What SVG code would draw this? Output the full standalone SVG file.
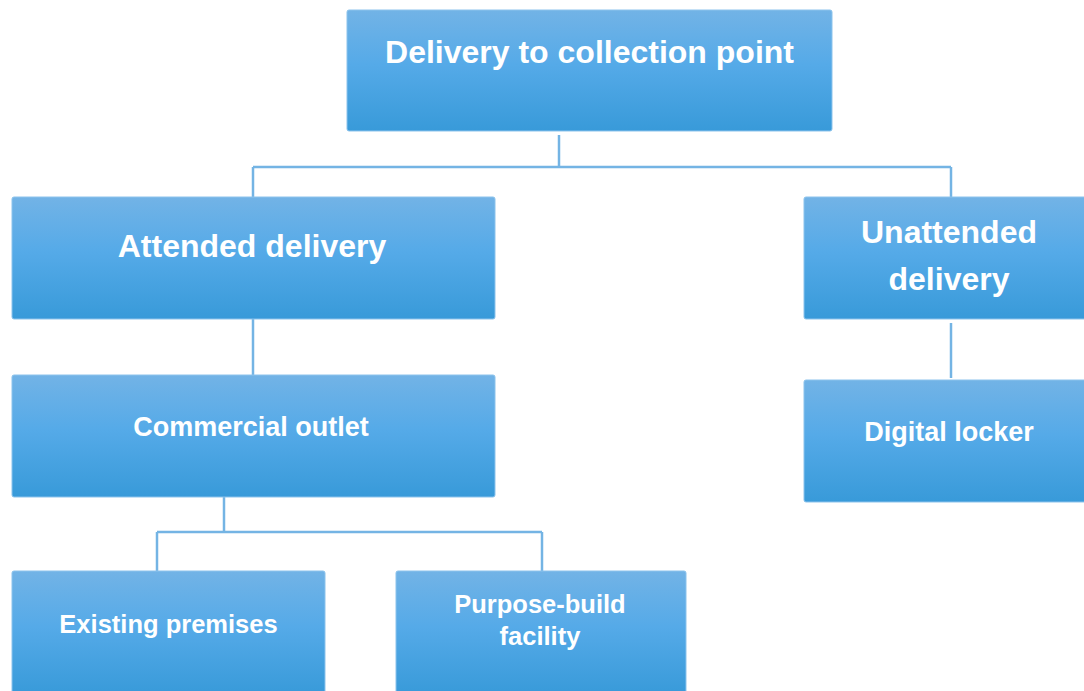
<svg xmlns="http://www.w3.org/2000/svg" width="1084" height="691" viewBox="0 0 1084 691">
  <defs>
    <linearGradient id="boxGrad" x1="0" y1="0" x2="0" y2="1">
      <stop offset="0" stop-color="#72b3e6"/>
      <stop offset="0.45" stop-color="#55aae8"/>
      <stop offset="1" stop-color="#389ad9"/>
    </linearGradient>
  </defs>
  <style>
    .box { fill: url(#boxGrad); stroke: #8cc3ec; stroke-width: 1; }
    .lbl { fill: #ffffff; font-family: "Liberation Sans", Arial, sans-serif; font-weight: bold; text-anchor: middle; }
    .big { font-size: 32px; }
    .mid { font-size: 27px; }
    .small { font-size: 25.5px; }
    .conn { fill: none; stroke: #74b4e4; stroke-width: 2.5; }
  </style>
  <rect width="1084" height="691" fill="#ffffff"/>

  <g id="connectors">
    <path class="conn" d="M559 135 V167"/>
    <path class="conn" d="M253 167 H951"/>
    <path class="conn" d="M253 167 V197"/>
    <path class="conn" d="M951 167 V197"/>
    <path class="conn" d="M253 319 V375"/>
    <path class="conn" d="M951 323 V378"/>
    <path class="conn" d="M224 497 V532"/>
    <path class="conn" d="M157 532 H542"/>
    <path class="conn" d="M157 532 V571"/>
    <path class="conn" d="M542 532 V571"/>
  </g>

  <g id="node-root">
    <rect class="box" x="347" y="10" width="485" height="121" rx="2"/>
    <text class="lbl big" x="589.5" y="63">Delivery to collection point</text>
  </g>

  <g id="node-attended">
    <rect class="box" x="12" y="197" width="483" height="122" rx="2"/>
    <text class="lbl big" x="252" y="257">Attended delivery</text>
  </g>

  <g id="node-unattended">
    <rect class="box" x="804" y="197" width="290" height="122" rx="2"/>
    <text class="lbl big" x="949" y="243">Unattended</text>
    <text class="lbl big" x="949" y="290">delivery</text>
  </g>

  <g id="node-commercial">
    <rect class="box" x="12" y="375" width="483" height="122" rx="2"/>
    <text class="lbl mid" x="251" y="436">Commercial outlet</text>
  </g>

  <g id="node-digital">
    <rect class="box" x="804" y="380" width="290" height="122" rx="2"/>
    <text class="lbl mid" x="949" y="441">Digital locker</text>
  </g>

  <g id="node-existing">
    <rect class="box" x="12" y="571" width="313" height="124" rx="2"/>
    <text class="lbl small" x="168.5" y="633">Existing premises</text>
  </g>

  <g id="node-purpose">
    <rect class="box" x="396" y="571" width="290" height="124" rx="2"/>
    <text class="lbl small" x="540" y="613">Purpose-build</text>
    <text class="lbl small" x="540" y="645">facility</text>
  </g>
</svg>
